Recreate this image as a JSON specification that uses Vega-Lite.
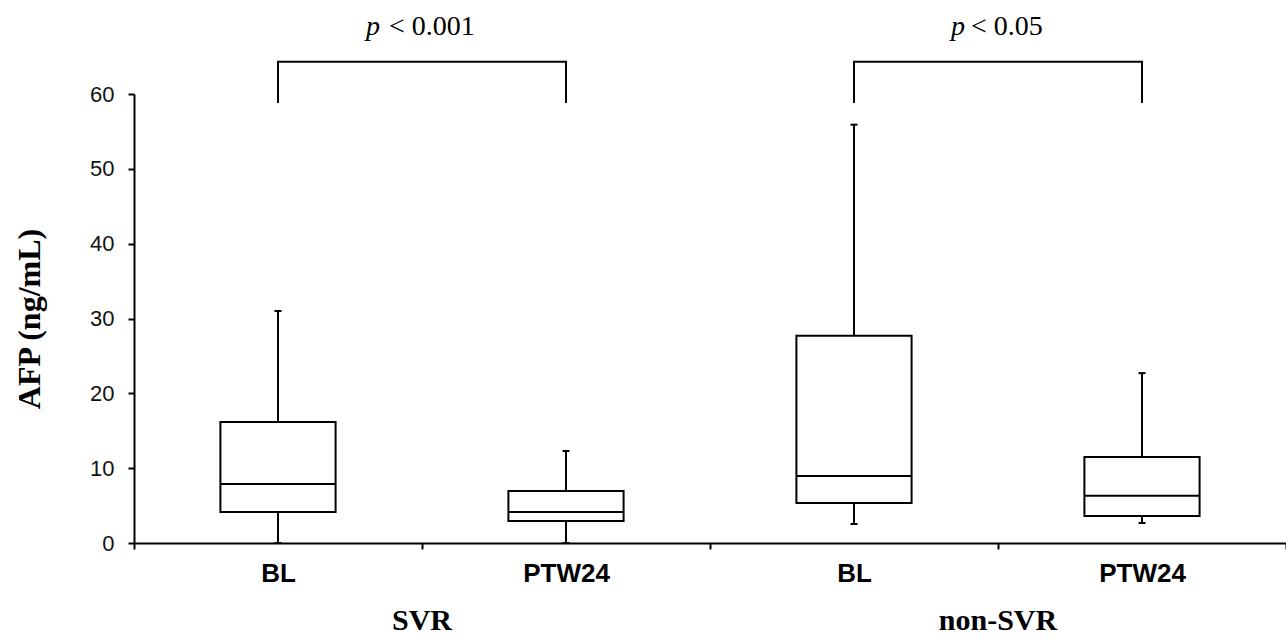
{
  "$schema": "https://vega.github.io/schema/vega-lite/v6.json",
  "width": 1152,
  "height": 449,
  "autosize": {"type": "none"},
  "padding": {"left": 134, "top": 94, "right": 0, "bottom": 96},
  "background": "white",
  "config": {"view": {"stroke": null}, "axis": {"grid": false}},
  "datasets": {
    "boxes": [
      {"cat": "SVR|BL", "min": 0, "q1": 4.14, "med": 7.88, "q3": 16.17, "max": 31.0},
      {"cat": "SVR|PTW24", "min": 0, "q1": 2.94, "med": 4.14, "q3": 6.95, "max": 12.3},
      {"cat": "non-SVR|BL", "min": 2.54, "q1": 5.35, "med": 8.95, "q3": 27.7, "max": 55.9},
      {"cat": "non-SVR|PTW24", "min": 2.67, "q1": 3.6, "med": 6.3, "q3": 11.5, "max": 22.7}
    ],
    "bracket": [
      {"grp": "SVR", "k": 1, "cat": "SVR|BL", "v": 58.8},
      {"grp": "SVR", "k": 2, "cat": "SVR|BL", "v": 64.3},
      {"grp": "SVR", "k": 3, "cat": "SVR|PTW24", "v": 64.3},
      {"grp": "SVR", "k": 4, "cat": "SVR|PTW24", "v": 58.8},
      {"grp": "non-SVR", "k": 1, "cat": "non-SVR|BL", "v": 58.8},
      {"grp": "non-SVR", "k": 2, "cat": "non-SVR|BL", "v": 64.3},
      {"grp": "non-SVR", "k": 3, "cat": "non-SVR|PTW24", "v": 64.3},
      {"grp": "non-SVR", "k": 4, "cat": "non-SVR|PTW24", "v": 58.8}
    ],
    "groups": [
      {"grp": "SVR", "p": "p", "txt": "< 0.001"},
      {"grp": "non-SVR", "p": "p", "txt": "< 0.05"}
    ]
  },
  "layer": [
    {
      "encoding": {
        "x": {
          "field": "cat",
          "type": "nominal",
          "scale": {"domain": ["SVR|BL", "SVR|PTW24", "non-SVR|BL", "non-SVR|PTW24"], "paddingInner": 0, "paddingOuter": 0},
          "axis": {
            "title": null,
            "labelExpr": "split(datum.label, '|')[1]",
            "labelFont": "Liberation Sans",
            "labelFontWeight": "bold",
            "labelFontSize": 26,
            "labelColor": "#000",
            "labelPadding": 11,
            "labelAngle": 0,
            "domainColor": "#000",
            "domainWidth": 2,
            "tickColor": "#000",
            "tickWidth": 2,
            "tickSize": 6,
            "tickBand": "extent"
          }
        }
      },
      "layer": [
        {
          "data": {"name": "boxes"},
          "mark": {"type": "rule", "stroke": "#000", "strokeWidth": 2},
          "encoding": {
            "y": {
              "field": "min",
              "type": "quantitative",
              "scale": {"domain": [0, 60], "nice": false, "zero": false},
              "axis": {
                "title": "AFP (ng/mL)",
                "values": [0, 10, 20, 30, 40, 50, 60],
                "labelFont": "Liberation Sans",
                "labelFontSize": 22,
                "labelColor": "#111",
                "labelPadding": 14,
                "domainColor": "#000",
                "domainWidth": 2,
                "tickColor": "#000",
                "tickWidth": 2,
                "tickSize": 6,
                "titleFont": "Liberation Serif",
                "titleFontWeight": "bold",
                "titleFontSize": 32,
                "titleColor": "#000",
                "titlePadding": 43
              }
            },
            "y2": {"field": "q1"}
          }
        },
        {
          "data": {"name": "boxes"},
          "mark": {"type": "rule", "stroke": "#000", "strokeWidth": 2},
          "encoding": {
            "y": {"field": "q3", "type": "quantitative"},
            "y2": {"field": "max"}
          }
        },
        {
          "data": {"name": "boxes"},
          "mark": {"type": "bar", "fill": "white", "stroke": "#000", "strokeWidth": 2, "width": {"band": 0.4}},
          "encoding": {
            "y": {"field": "q1", "type": "quantitative"},
            "y2": {"field": "q3"}
          }
        },
        {
          "data": {"name": "boxes"},
          "mark": {"type": "tick", "orient": "horizontal", "size": 115, "thickness": 2, "color": "#000", "opacity": 1},
          "encoding": {"y": {"field": "med", "type": "quantitative"}}
        },
        {
          "data": {"name": "boxes"},
          "mark": {"type": "tick", "orient": "horizontal", "size": 7, "thickness": 2, "color": "#000", "opacity": 1},
          "encoding": {"y": {"field": "max", "type": "quantitative"}}
        },
        {
          "data": {"name": "boxes"},
          "mark": {"type": "tick", "orient": "horizontal", "size": 7, "thickness": 2, "color": "#000", "opacity": 1},
          "encoding": {"y": {"field": "min", "type": "quantitative"}}
        },
        {
          "data": {"name": "bracket"},
          "mark": {"type": "line", "stroke": "#000", "strokeWidth": 2, "strokeJoin": "miter", "clip": false},
          "encoding": {
            "y": {"field": "v", "type": "quantitative"},
            "detail": {"field": "grp"},
            "order": {"field": "k"}
          }
        }
      ]
    },
    {
      "data": {"name": "groups"},
      "encoding": {
        "x": {
          "field": "grp",
          "type": "nominal",
          "scale": {"domain": ["SVR", "non-SVR"], "paddingInner": 0, "paddingOuter": 0},
          "axis": null
        }
      },
      "layer": [
        {
          "mark": {"type": "text", "font": "Liberation Serif", "fontWeight": "bold", "fontSize": 30, "color": "#000", "baseline": "alphabetic", "align": "center"},
          "encoding": {"y": {"datum": -11.6, "type": "quantitative"}, "text": {"field": "grp"}}
        },
        {
          "transform": [{"filter": "datum.grp == 'SVR'"}],
          "mark": {"type": "text", "font": "Liberation Serif", "fontStyle": "italic", "fontSize": 28, "color": "#000", "baseline": "alphabetic", "align": "right", "dx": -42},
          "encoding": {"y": {"datum": 67.9, "type": "quantitative"}, "text": {"field": "p"}}
        },
        {
          "transform": [{"filter": "datum.grp == 'SVR'"}],
          "mark": {"type": "text", "font": "Liberation Serif", "fontSize": 28, "color": "#000", "baseline": "alphabetic", "align": "left", "dx": -33},
          "encoding": {"y": {"datum": 67.9, "type": "quantitative"}, "text": {"field": "txt"}}
        },
        {
          "transform": [{"filter": "datum.grp == 'non-SVR'"}],
          "mark": {"type": "text", "font": "Liberation Serif", "fontStyle": "italic", "fontSize": 28, "color": "#000", "baseline": "alphabetic", "align": "right", "dx": -33},
          "encoding": {"y": {"datum": 67.9, "type": "quantitative"}, "text": {"field": "p"}}
        },
        {
          "transform": [{"filter": "datum.grp == 'non-SVR'"}],
          "mark": {"type": "text", "font": "Liberation Serif", "fontSize": 28, "color": "#000", "baseline": "alphabetic", "align": "left", "dx": -27},
          "encoding": {"y": {"datum": 67.9, "type": "quantitative"}, "text": {"field": "txt"}}
        }
      ]
    }
  ],
  "resolve": {"scale": {"x": "independent"}}
}
